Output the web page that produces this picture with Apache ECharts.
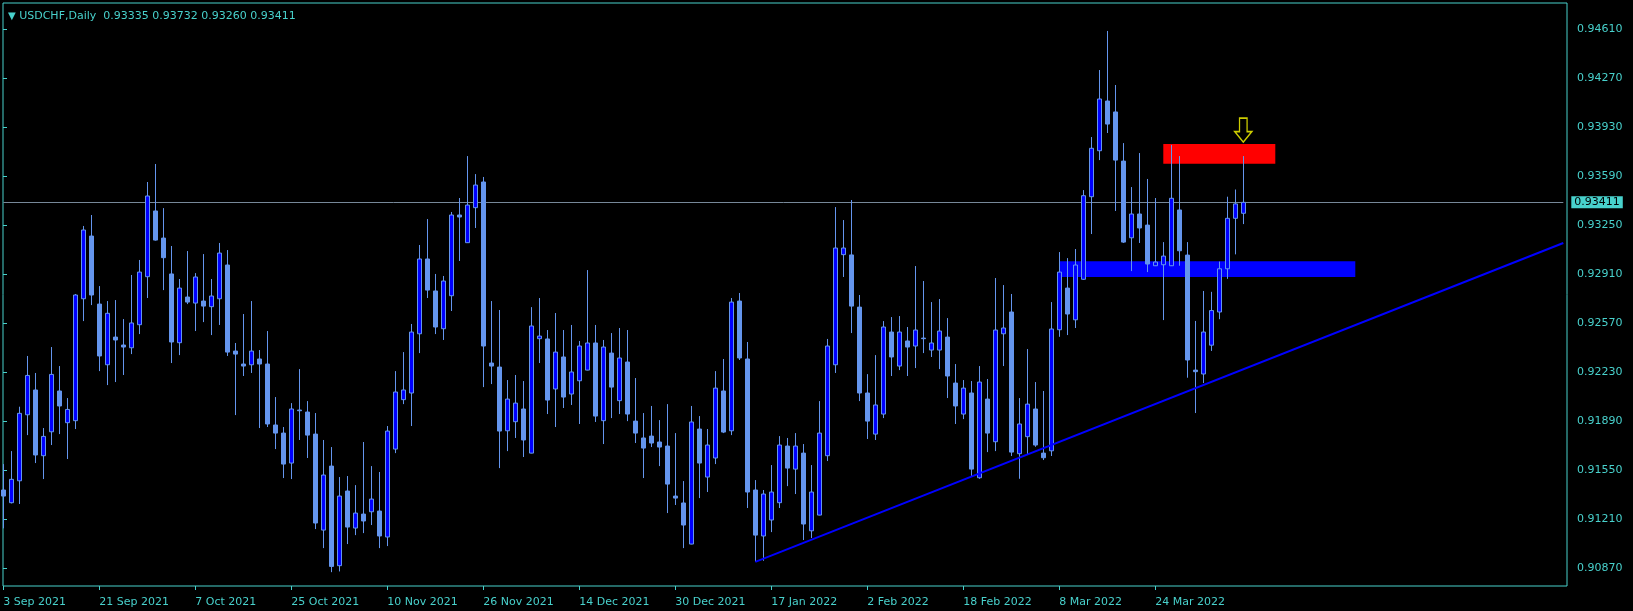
<!DOCTYPE html>
<html><head><meta charset="utf-8">
<script src="https://cdn.jsdelivr.net/npm/echarts@6/dist/echarts.min.js"></script>
<style>html,body{margin:0;padding:0;background:#000;}#c{width:1633px;height:611px;}</style>
</head><body><div id="c"></div>
<script>
// ---- data (USDCHF daily) ----
const openP = [0.91415,0.91327,0.91479,0.91937,0.92109,0.91653,0.91819,0.92102,0.91882,0.91896,
0.92742,0.93177,0.92705,0.92284,0.92476,0.92421,0.92402,0.92562,0.92895,0.93351,
0.93163,0.92914,0.92437,0.92754,0.92712,0.92726,0.92687,0.92742,0.92976,0.92379,
0.92289,0.92284,0.92324,0.92289,0.91866,0.91810,0.91602,0.91970,0.91956,0.91803,
0.91137,0.91581,0.90890,0.91408,0.91151,0.91248,0.91264,0.91269,0.91089,0.91699,
0.92042,0.92088,0.92499,0.93018,0.92796,0.92534,0.92763,0.93323,0.93131,0.93374,
0.93552,0.92296,0.92268,0.91826,0.91889,0.91977,0.91671,0.92465,0.92463,0.92116,
0.92338,0.92081,0.92173,0.92247,0.92435,0.91896,0.92365,0.92035,0.92303,0.91893,
0.91776,0.91789,0.91748,0.91720,0.91373,0.91325,0.91040,0.91838,0.91505,0.91637,
0.92102,0.91826,0.92726,0.92324,0.91415,0.91096,0.91207,0.91327,0.91720,0.91560,
0.91671,0.91132,0.91241,0.91653,0.92284,0.93048,0.93046,0.92684,0.92088,0.91803,
0.91942,0.92511,0.92275,0.92449,0.92414,0.92469,0.92386,0.92386,0.92476,0.92157,
0.91942,0.92088,0.91500,0.92046,0.91750,0.92499,0.92650,0.91667,0.91785,0.91977,
0.91671,0.91687,0.92527,0.92816,0.92596,0.92877,0.93450,0.93769,0.94114,0.94038,
0.93697,0.93165,0.93330,0.93253,0.92971,0.92978,0.92971,0.93358,0.93045,0.92247,
0.92220,0.92420,0.92650,0.92950,0.93300,0.93335];
const closeP = [0.91373,0.91489,0.91947,0.92210,0.91658,0.91787,0.92217,0.91998,0.91974,0.92768,
0.93219,0.92768,0.92345,0.92641,0.92456,0.92407,0.92574,0.92927,0.93455,0.93149,
0.93027,0.92442,0.92816,0.92719,0.92893,0.92691,0.92761,0.93059,0.92372,0.92358,
0.92275,0.92379,0.92289,0.91873,0.91810,0.91595,0.91977,0.91965,0.91796,0.91186,
0.91519,0.90885,0.91373,0.91158,0.91255,0.91200,0.91352,0.91096,0.91824,0.92095,
0.92109,0.92511,0.93018,0.92802,0.92546,0.92865,0.93323,0.93309,0.93392,0.93531,
0.92414,0.92275,0.91824,0.92046,0.92018,0.91762,0.92553,0.92483,0.92039,0.92372,
0.92060,0.92234,0.92414,0.92435,0.91928,0.92407,0.92129,0.92331,0.91942,0.91810,
0.91706,0.91741,0.91713,0.91456,0.91359,0.91172,0.91887,0.91602,0.91727,0.92122,
0.91817,0.92719,0.92331,0.91401,0.91102,0.91387,0.91401,0.91727,0.91567,0.91720,
0.91179,0.91401,0.91810,0.92414,0.93094,0.93094,0.92691,0.92088,0.91893,0.92005,
0.92546,0.92338,0.92511,0.92407,0.92525,0.92465,0.92435,0.92518,0.92206,0.91998,
0.92122,0.91560,0.92164,0.91810,0.92525,0.92539,0.91678,0.91873,0.92011,0.91727,
0.91639,0.92532,0.92927,0.92636,0.92976,0.93457,0.93786,0.94128,0.93954,0.93704,
0.93135,0.93330,0.93233,0.92983,0.92997,0.93038,0.93439,0.93075,0.92317,0.92236,
0.92511,0.92660,0.92950,0.93300,0.93400,0.93411];
const highP = [0.91595,0.91685,0.91993,0.92345,0.92227,0.91845,0.92407,0.92275,0.92053,0.92775,
0.93247,0.93323,0.92830,0.92726,0.92733,0.92601,0.92907,0.93011,0.93552,0.93677,
0.93371,0.93108,0.92879,0.93073,0.92920,0.93052,0.92879,0.93129,0.93080,0.92435,
0.92636,0.92726,0.92386,0.92518,0.92060,0.91852,0.92018,0.92254,0.92032,0.91949,
0.91762,0.91713,0.91505,0.91512,0.91449,0.91748,0.91581,0.91540,0.91859,0.92240,
0.92372,0.92567,0.93115,0.93295,0.92914,0.92900,0.93344,0.93441,0.93732,0.93607,
0.93587,0.92726,0.92664,0.92178,0.92213,0.92171,0.92684,0.92747,0.92525,0.92643,
0.92525,0.92560,0.92449,0.92941,0.92560,0.92456,0.92504,0.92539,0.92525,0.92192,
0.91949,0.91998,0.91900,0.92011,0.91810,0.91477,0.91998,0.91928,0.91838,0.92240,
0.92324,0.92747,0.92782,0.92442,0.91484,0.91415,0.91588,0.91789,0.91776,0.91810,
0.91734,0.91588,0.92032,0.92463,0.93378,0.93288,0.93427,0.92768,0.92219,0.92351,
0.92587,0.92615,0.92622,0.92546,0.92969,0.92865,0.92719,0.92740,0.92608,0.92289,
0.92178,0.92171,0.92275,0.92185,0.92886,0.92837,0.92775,0.92053,0.92393,0.92164,
0.92102,0.92719,0.93066,0.93024,0.93087,0.93496,0.93864,0.94329,0.94600,0.94225,
0.93822,0.93517,0.93753,0.93573,0.93441,0.93135,0.93809,0.93732,0.93135,0.92588,
0.92796,0.92790,0.93000,0.93450,0.93500,0.93732];
const lowP = [0.91149,0.91322,0.91318,0.91796,0.91602,0.91491,0.91727,0.91803,0.91630,0.91838,
0.92587,0.92698,0.92240,0.92143,0.92164,0.92213,0.92358,0.92497,0.92747,0.93145,
0.92802,0.92296,0.92351,0.92705,0.92518,0.92580,0.92490,0.92560,0.92345,0.91935,
0.92206,0.92227,0.91845,0.91852,0.91699,0.91498,0.91491,0.91762,0.91637,0.91144,
0.91012,0.90845,0.90850,0.91040,0.91102,0.91116,0.91172,0.91012,0.91026,0.91671,
0.92011,0.91859,0.92365,0.92747,0.92497,0.92456,0.92657,0.93004,0.93129,0.93233,
0.92129,0.92150,0.91567,0.91685,0.91776,0.91644,0.91669,0.92296,0.91942,0.91852,
0.91984,0.92005,0.91873,0.92245,0.91887,0.91734,0.91914,0.91942,0.91893,0.91741,
0.91498,0.91713,0.91581,0.91255,0.91311,0.91012,0.91038,0.91359,0.91401,0.91595,
0.91810,0.91796,0.92317,0.91290,0.90917,0.90924,0.91123,0.91290,0.91442,0.91387,
0.91068,0.91082,0.91239,0.91616,0.92227,0.92893,0.92504,0.92032,0.91769,0.91762,
0.91914,0.92206,0.92247,0.92206,0.92261,0.92365,0.92338,0.92254,0.92053,0.91873,
0.91907,0.91507,0.91493,0.91678,0.91685,0.92275,0.91651,0.91493,0.91664,0.91715,
0.91623,0.91651,0.92478,0.92490,0.92539,0.92872,0.93191,0.93704,0.93892,0.93351,
0.93129,0.92934,0.93129,0.92927,0.92969,0.92594,0.92969,0.92971,0.92194,0.91949,
0.92157,0.92380,0.92600,0.92880,0.93050,0.93260];

const priceTicks = [0.90870,0.91210,0.91550,0.91890,0.92230,0.92570,0.92910,0.93250,0.93590,0.93930,0.94270,0.94610];
const dateTicks = ['3 Sep 2021','21 Sep 2021','7 Oct 2021','25 Oct 2021','10 Nov 2021','26 Nov 2021',
  '14 Dec 2021','30 Dec 2021','17 Jan 2022','2 Feb 2022','18 Feb 2022','8 Mar 2022','24 Mar 2022'];
const lastPrice = 0.93411;
const redZone = [[145, 0.93816], [159, 0.93679]];   // [barIndex, price] corners
const blueZone = [[132, 0.93002], [169, 0.92893]];
const trendLine = [[94, 0.90916], [195, 0.93129]];
const arrowMark = [[155, 0.93912]];
const yRange = [0.90749, 0.94794];

// ---- trading-day categories (weekdays) ----
const MONTHS = ['Jan','Feb','Mar','Apr','May','Jun','Jul','Aug','Sep','Oct','Nov','Dec'];
const cats = [];
const d = new Date(2021, 8, 3);
while (cats.length < 196) {
  const wd = d.getDay();
  if (wd !== 0 && wd !== 6) cats.push(d.getDate() + ' ' + MONTHS[d.getMonth()] + ' ' + d.getFullYear());
  d.setDate(d.getDate() + 1);
}
const candles = openP.map((o, i) => [o, closeP[i], lowP[i], highP[i]]);
const n = openP.length - 1;
const header = 'USDCHF,Daily  ' + [openP[n], highP[n], lowP[n], closeP[n]].map(v => v.toFixed(5)).join(' ');

const C = '#48D1CC';
const FONT = 'DejaVu Sans';
const showDate = (idx, val) => dateTicks.indexOf(val) >= 0;

const chart = echarts.init(document.getElementById('c'));
chart.setOption({
  backgroundColor: '#000',
  animation: false,
  title: {
    text: '{t|▼} ' + header, left: 3, top: 6,
    textStyle: { color: C, fontSize: 11, fontFamily: FONT, fontWeight: 'normal',
      rich: { t: { fontSize: 10, color: C, fontFamily: FONT } } }
  },
  grid: [
    { left: 3, right: 66, top: 3, bottom: 25, show: true, borderColor: C, borderWidth: 1, backgroundColor: 'transparent' },
    { left: 3.3, right: 69.7, top: 3, bottom: 25 }
  ],
  xAxis: [
    { type: 'value', gridIndex: 0, min: 0, max: 1, show: false },
    { type: 'category', gridIndex: 1, data: cats, boundaryGap: false,
      axisLine: { show: false },
      axisTick: { show: true, interval: showDate, length: 4, lineStyle: { color: C } },
      axisLabel: { interval: showDate, align: 'left', color: C, fontSize: 11, fontFamily: FONT, margin: 11 },
      splitLine: { show: false } }
  ],
  yAxis: [
    { type: 'value', gridIndex: 0, position: 'right', min: yRange[0], max: yRange[1],
      axisLine: { show: false },
      axisTick: { show: true, length: 4, lineStyle: { color: C }, customValues: priceTicks },
      axisLabel: { customValues: priceTicks, formatter: v => v.toFixed(5), color: C, fontSize: 11, fontFamily: FONT, margin: 10 },
      splitLine: { show: false } },
    { type: 'value', gridIndex: 1, min: yRange[0], max: yRange[1], show: false }
  ],
  series: [
    { type: 'line', xAxisIndex: 1, yAxisIndex: 1, data: [], z: 1, silent: true,
      markArea: { silent: true, animation: false,
        data: [
          [{ coord: redZone[0], itemStyle: { color: '#FF0000', opacity: 1 } }, { coord: redZone[1] }],
          [{ coord: blueZone[0], itemStyle: { color: '#0000FF', opacity: 1 } }, { coord: blueZone[1] }]
        ] } },
    { type: 'candlestick', xAxisIndex: 1, yAxisIndex: 1, data: candles, z: 3, barWidth: 4,
      itemStyle: { color: '#0000FF', color0: '#6495ED', borderColor: '#6495ED', borderColor0: '#6495ED',
        borderColorDoji: '#6495ED', borderWidth: 1 },
      markLine: { silent: true, symbol: 'none', animation: false, z: 1, precision: 5,
        lineStyle: { color: '#778899', width: 1, type: 'solid' },
        label: { show: true, position: 'end', distance: 8, formatter: lastPrice.toFixed(5),
          backgroundColor: C, color: '#000', fontSize: 11, fontFamily: FONT, padding: [1, 3, 0, 3] },
        data: [{ yAxis: lastPrice }] } },
    { type: 'line', xAxisIndex: 1, yAxisIndex: 1, data: trendLine, z: 4, symbol: 'none', silent: true,
      lineStyle: { color: '#0000FF', width: 2 } },
    { type: 'scatter', xAxisIndex: 1, yAxisIndex: 1, data: arrowMark, z: 5, silent: true,
      symbol: 'path://M5,0 L13,0 L13,14 L18,14 L9,25 L0,14 L5,14 Z', symbolSize: [17, 24],
      itemStyle: { color: '#000', borderColor: '#FFFF00', borderWidth: 1.5 } }
  ]
});
</script></body></html>
